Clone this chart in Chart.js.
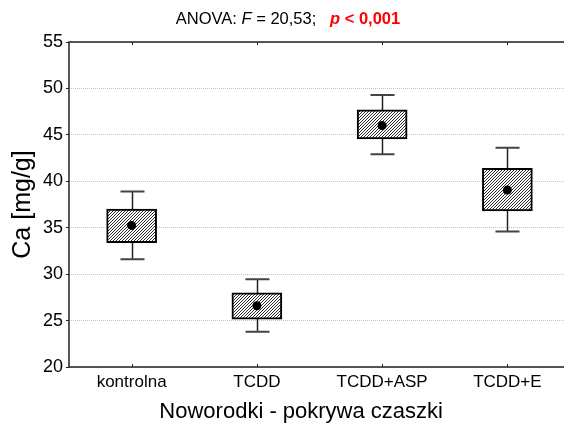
<!DOCTYPE html>
<html><head><meta charset="utf-8">
<script src="https://cdn.jsdelivr.net/npm/chart.js@4/dist/chart.umd.min.js"></script>
<style>
html,body{margin:0;padding:0;overflow:hidden;background:#fff;width:564px;height:425px;}
#wrap{position:relative;width:576px;height:425px;}
#c{display:block;}
#title{position:absolute;left:6px;top:9px;width:564px;text-align:center;font-family:"Liberation Sans",Arial,sans-serif;font-size:16.5px;color:#000;white-space:pre;line-height:18px;}
</style></head><body>
<div id="wrap"><canvas id="c" width="576" height="425"></canvas>
<div id="title">ANOVA: <i>F</i> = 20,53;   <b style="color:#f00"><i>p</i> &lt; 0,001</b></div></div>
<script>
const categories = ['kontrolna', 'TCDD', 'TCDD+ASP', 'TCDD+E'];
const means = [35.25, 26.6, 46.0, 39.05];
const boxLow = [33.4, 25.15, 44.55, 36.8];
const boxHigh = [37.0, 28.0, 47.7, 41.4];
const whiskLow = [31.6, 23.8, 42.9, 34.6];
const whiskHigh = [38.9, 29.45, 49.3, 43.6];
const yMin = 20, yMax = 55, yStep = 5;
const yTitle = 'Ca [mg/g]';
const xTitle = 'Noworodki - pokrywa czaszki      ';

const FONT = '"Liberation Sans", Arial, sans-serif';
const canvas = document.getElementById('c');
const ctx = canvas.getContext('2d');

const S = 3;
const pc = document.createElement('canvas'); pc.width = S; pc.height = S;
const p = pc.getContext('2d');
p.fillStyle = '#fff'; p.fillRect(0, 0, S, S);
p.strokeStyle = '#2a2a2a'; p.lineWidth = 1;
p.beginPath();
p.moveTo(0, S); p.lineTo(S, 0);
p.moveTo(-1, 1); p.lineTo(1, -1);
p.moveTo(S - 1, S + 1); p.lineTo(S + 1, S - 1);
p.stroke();
const hatch = ctx.createPattern(pc, 'repeat');

const framePlugin = {
  id: 'frame',
  beforeDatasetsDraw(chart) {
    const {ctx, chartArea: a, scales: {x, y}} = chart;
    ctx.save();
    categories.forEach((c, i) => {
      const px = Math.round(x.getPixelForValue(i)) + 0.5;
      const yl = y.getPixelForValue(whiskLow[i]);
      const yh = y.getPixelForValue(whiskHigh[i]);
      ctx.strokeStyle = '#222';
      ctx.lineWidth = 1.5;
      ctx.beginPath(); ctx.moveTo(px, yl); ctx.lineTo(px, yh); ctx.stroke();
      ctx.lineWidth = 2;
      ctx.strokeStyle = '#444';
      ctx.beginPath();
      ctx.moveTo(px - 12, yl); ctx.lineTo(px + 12, yl);
      ctx.moveTo(px - 12, yh); ctx.lineTo(px + 12, yh);
      ctx.stroke();
    });
    ctx.strokeStyle = '#222';
    ctx.lineWidth = 1.5;
    ctx.beginPath();
    ctx.moveTo(a.right, a.top); ctx.lineTo(a.left, a.top);
    ctx.lineTo(a.left, a.bottom); ctx.lineTo(a.right, a.bottom);
    ctx.stroke();
    ctx.lineWidth = 1;
    ctx.beginPath();
    categories.forEach((c, i) => {
      const px = Math.round(x.getPixelForValue(i)) + 0.5;
      ctx.moveTo(px, a.top); ctx.lineTo(px, a.top + 3);
      ctx.moveTo(px, a.bottom); ctx.lineTo(px, a.bottom - 3);
    });
    ctx.stroke();
    ctx.restore();
  }
};

new Chart(ctx, {
  type: 'bar',
  data: {
    labels: categories,
    datasets: [
      {
        type: 'line',
        data: means,
        showLine: false,
        pointRadius: 4.5,
        pointHoverRadius: 4.5,
        pointBackgroundColor: '#000',
        pointBorderWidth: 0,
        order: 0
      },
      {
        type: 'bar',
        data: categories.map((c, i) => [boxLow[i], boxHigh[i]]),
        backgroundColor: hatch,
        borderColor: '#000',
        borderWidth: 2,
        borderSkipped: false,
        barThickness: 50,
        order: 1
      }
    ]
  },
  options: {
    responsive: false,
    animation: false,
    events: [],
    layout: { padding: { top: 42, right: 6, left: 0, bottom: 0 } },
    plugins: { legend: { display: false }, tooltip: { enabled: false } },
    scales: {
      x: {
        grid: { display: false, drawTicks: false },
        border: { display: false },
        ticks: { font: { family: FONT, size: 17 }, color: '#000', padding: 5 },
        title: { display: true, text: xTitle, font: { family: FONT, size: 22 }, color: '#000', padding: 0 },
        afterFit(s) { s.height = 58; }
      },
      y: {
        min: yMin, max: yMax,
        ticks: { stepSize: yStep, font: { family: FONT, size: 18 }, color: '#000', padding: 3 },
        grid: { color: '#c4c4c4', lineWidth: 1, tickLength: 3, tickColor: '#222', tickBorderDash: [], tickWidth: 1 },
        border: { display: false, dash: [1, 1] },
        title: { display: true, text: yTitle, font: { family: FONT, size: 25 }, color: '#000', padding: { top: 8, bottom: 0 } },
        afterFit(s) { s.width = 69; }
      }
    }
  },
  plugins: [framePlugin]
});
</script>
</body></html>
